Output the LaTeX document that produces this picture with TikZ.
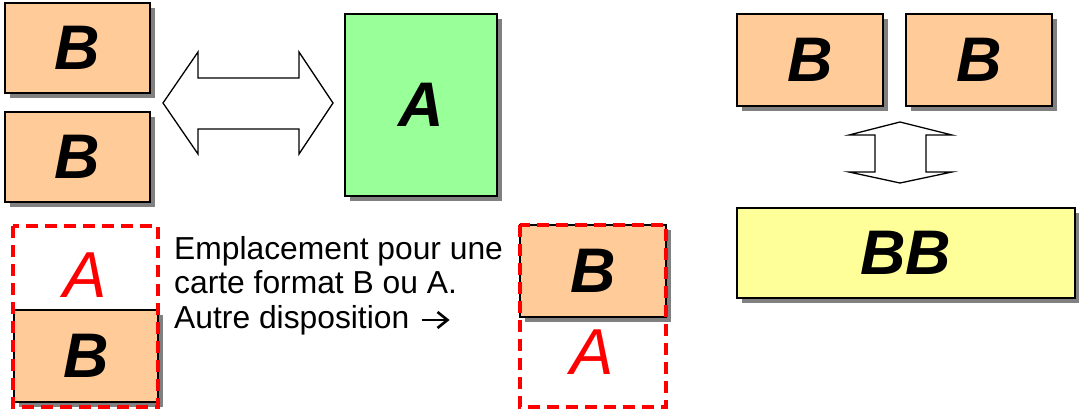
\documentclass[tikz,border=0pt]{standalone}
\usepackage{fontspec}
\setmainfont{Liberation Sans}
\usetikzlibrary{shadows,calc}
\definecolor{borange}{HTML}{FFCC99}
\definecolor{agreen}{HTML}{99FF99}
\definecolor{byellow}{HTML}{FFFF99}
\definecolor{shadowgray}{HTML}{808080}
\tikzset{
  card/.style={draw=black, line width=1.8pt, inner sep=0pt,
    drop shadow={shadow xshift=5pt, shadow yshift=-5pt, fill=shadowgray, opacity=1},
    font=\fontsize{63}{63}\selectfont\bfseries\itshape},
  bcard/.style={card, fill=borange, minimum width=#1, minimum height=90pt},
  bcard/.default=145pt,
  slot/.style={draw=red, line width=3.5pt, dash pattern=on 12pt off 7pt},
  redA/.style={text=red, font=\fontsize{65}{65}\selectfont\itshape, inner sep=0pt},
  note/.style={font=\fontsize{31.8}{34}\selectfont, anchor=base west, inner sep=0pt},
  blockarrow/.style={draw=black, line width=1.3pt, fill=white, line join=miter},
  textarrow/.style={draw=black, line width=2.6pt}
}
\begin{document}
\begin{tikzpicture}[x=1pt,y=-1pt]
\useasboundingbox (0,0) rectangle (1079,414);
% left pair of B cards
\node[bcard] (b1) at (77.5,48) {B};
\node[bcard] (b2) at (77.5,157) {B};
% horizontal double block arrow
\draw[blockarrow] (163,103) -- (198,52) -- (198,78) -- (299,78) -- (299,52) -- (333,103)
  -- (299,154) -- (299,129) -- (198,129) -- (198,154) -- cycle;
% A card
\node[card, fill=agreen, minimum width=152pt, minimum height=182pt] (a1) at (421,105) {A};
% right pair of B cards
\node[bcard=146pt, minimum height=92pt] (b3) at (810,60) {B};
\node[bcard=146pt, minimum height=92pt] (b4) at (979,60) {B};
% vertical double block arrow
\draw[blockarrow] (900,122) -- (849,135) -- (875,135) -- (875,172) -- (849,172) -- (900,183)
  -- (952,172) -- (926,172) -- (926,135) -- (952,135) -- cycle;
% BB card
\node[card, fill=byellow, minimum width=338pt, minimum height=90pt] (bb) at (906,253) {BB};
% bottom left slot
\node[bcard=144pt, minimum height=92pt] (b5) at (86,356) {B};
\node[redA] (ra1) at (85,275) {A};
\draw[slot] (13,226) rectangle (158,407);
% text
\node[note] (t1) at (174,259) {Emplacement pour une};
\node[note] (t2) at (174,293) {carte format B ou A.};
\node[note] (t3) at (174,328) {Autre disposition};
\coordinate (ar0) at ($(t3.base east)+(12,-8)$);
\draw[textarrow] (ar0) -- ++(25,0);
\draw[textarrow, line join=miter] ($(ar0)+(16,-8)$) -- ($(ar0)+(26,0)$) -- ($(ar0)+(16,8)$);
% bottom right slot
\node[bcard=146pt, minimum height=92pt] (b6) at (593,271) {B};
\node[redA] (ra2) at (592,352) {A};
\draw[slot] (520,225) rectangle (666,407);
\end{tikzpicture}
\end{document}
